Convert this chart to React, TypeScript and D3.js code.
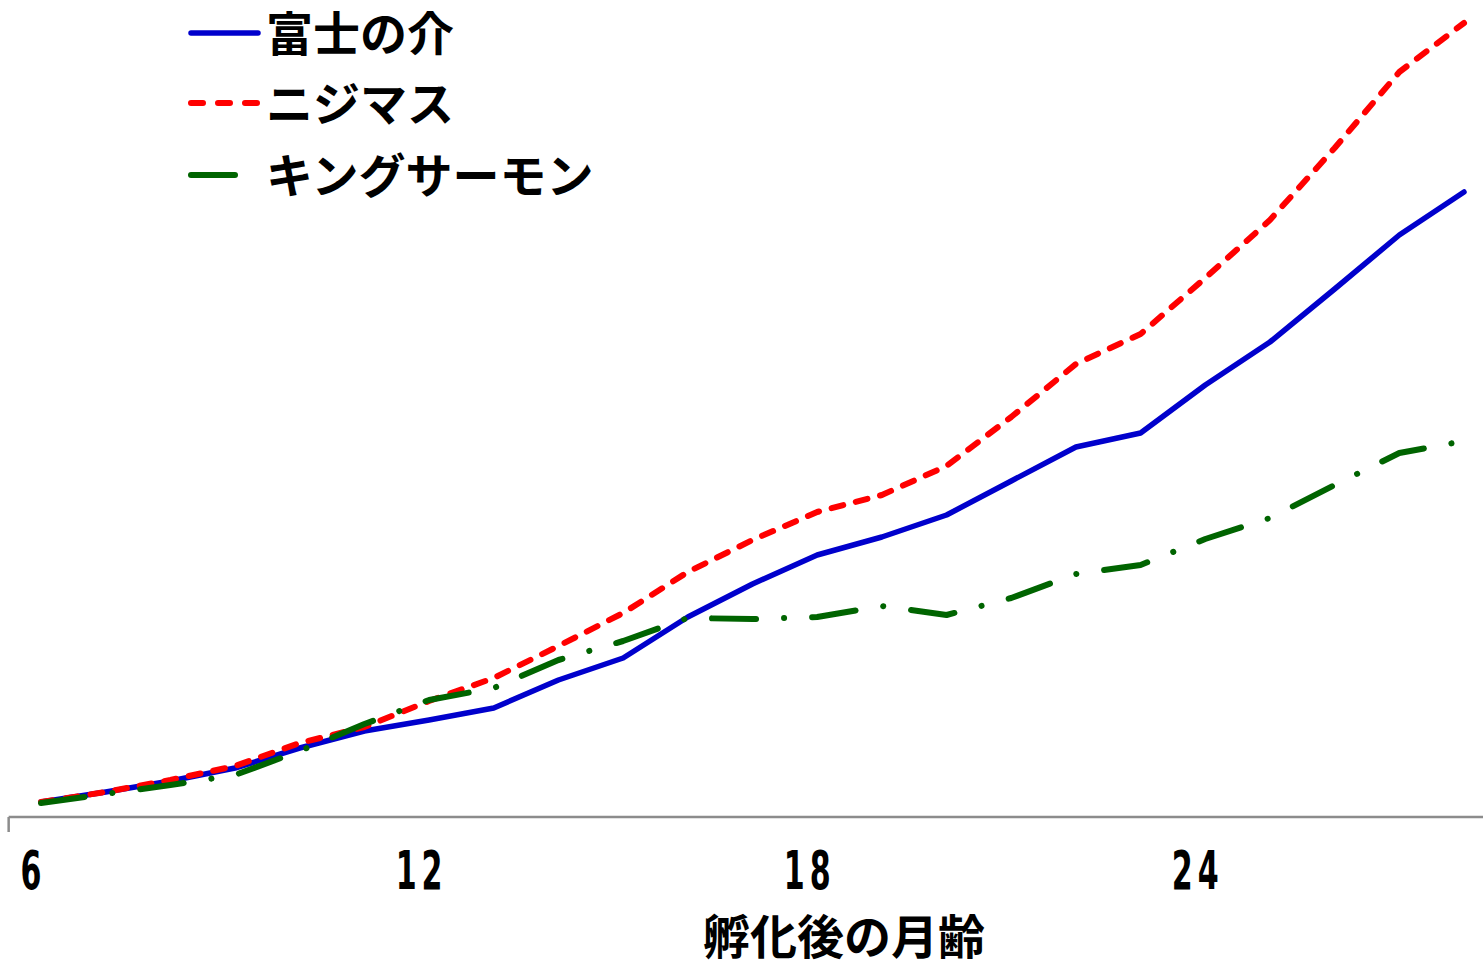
import React from "react";
import * as d3 from "d3";

const months = [6, 7, 8, 9, 10, 11, 12, 13, 14, 15, 16, 17, 18, 19, 20, 21, 22, 23, 24, 25, 26, 27, 28];
const fujinosuke = [6, 10, 14.4, 19.6, 27.6, 34.4, 38.8, 43.6, 54.8, 63.6, 80, 93.2, 104.8, 112, 120.8, 134.4, 148, 153.6, 172.8, 190, 211.2, 232.8, 250];
const nijimasu = [6, 10, 14.8, 20.4, 29.6, 36, 46.4, 55.6, 68.4, 81.6, 98, 110.8, 122, 128.8, 140.4, 160, 181.2, 193.2, 215.6, 238.8, 267.6, 298, 317.6];
const kingSalmon = [5.6, 9.2, 12.8, 16.8, 26.4, 37.2, 46.8, 51.6, 62.8, 70.4, 79.6, 79.2, 80, 84.4, 80.8, 87.6, 97.2, 100.8, 111.2, 119.6, 132.8, 145.6, 150.4];
const tickMonths = [6, 12, 18, 24];
const seriesNames = ["富士の介", "ニジマス", "キングサーモン"];
const xTitle = "孵化後の月齢";

const W = 1483;
const H = 960;

export default function App() {
  const x = d3.scaleLinear().domain([6, 28]).range([41, 1464]);
  const y = d3.scaleLinear().domain([0, 320]).range([817, 17]);

  const styles = [
    { color: "#0000CC", width: 5.5, dash: undefined as string | undefined },
    { color: "#FF0000", width: 6, dash: "12 13" },
    { color: "#006400", width: 6, dash: "44 28 0.1 28" },
  ];
  const series = [fujinosuke, nijimasu, kingSalmon];

  const line = (vals: number[]) =>
    d3
      .line<number>()
      .x((_, i) => x(months[i]))
      .y((v) => y(v))(vals) || "";

  const axisY = y(0);
  const cjk = "'Noto Sans CJK JP', 'Noto Sans', sans-serif";
  const narrow = "'Liberation Sans Narrow', 'Arial Narrow', 'DejaVu Sans Condensed', sans-serif";
  const ls = 8;
  const sx = 0.62;

  return (
    <svg
      width={W}
      height={H}
      style={{ position: "absolute", left: 0, top: 0, background: "#fff" }}
    >
      <rect x={0} y={0} width={W} height={H} fill="#fff" />
      {/* x axis */}
      <line x1={x(5.5)} x2={W} y1={axisY} y2={axisY} stroke="#8c8c8c" strokeWidth={2.5} />
      <line x1={x(5.5)} x2={x(5.5)} y1={axisY} y2={axisY + 15} stroke="#8c8c8c" strokeWidth={2.5} />
      {tickMonths.map((t) => (
        <text
          key={t}
          transform={`translate(${x(t) - 10 + (ls * sx) / 2},${889}) scale(${sx},1)`}
          textAnchor="middle"
          fontFamily={narrow}
          fontWeight="bold"
          fontSize={54}
          letterSpacing={ls}
          fill="#000"
        >
          {t}
        </text>
      ))}
      <text
        x={844}
        y={933}
        textAnchor="middle"
        dominantBaseline="central"
        fontFamily={cjk}
        fontWeight="bold"
        fontSize={47}
        fill="#000"
      >
        {xTitle}
      </text>

      {/* series */}
      {series.map((vals, i) => (
        <path
          key={i}
          d={line(vals)}
          fill="none"
          stroke={styles[i].color}
          strokeWidth={styles[i].width}
          strokeDasharray={styles[i].dash}
          strokeLinecap="round"
          strokeLinejoin="round"
        />
      ))}

      {/* legend */}
      {seriesNames.map((name, i) => {
        const ly = [33, 103, 175][i];
        return (
          <g key={name}>
            <line
              x1={191}
              x2={258}
              y1={ly}
              y2={ly}
              stroke={styles[i].color}
              strokeWidth={styles[i].width}
              strokeDasharray={i === 1 ? "12 15" : styles[i].dash}
              strokeLinecap="round"
            />
            <text
              x={266}
              y={ly - 3}
              dominantBaseline="central"
              fontFamily={cjk}
              fontWeight="bold"
              fontSize={47}
              fill="#000"
            >
              {name}
            </text>
          </g>
        );
      })}
    </svg>
  );
}
